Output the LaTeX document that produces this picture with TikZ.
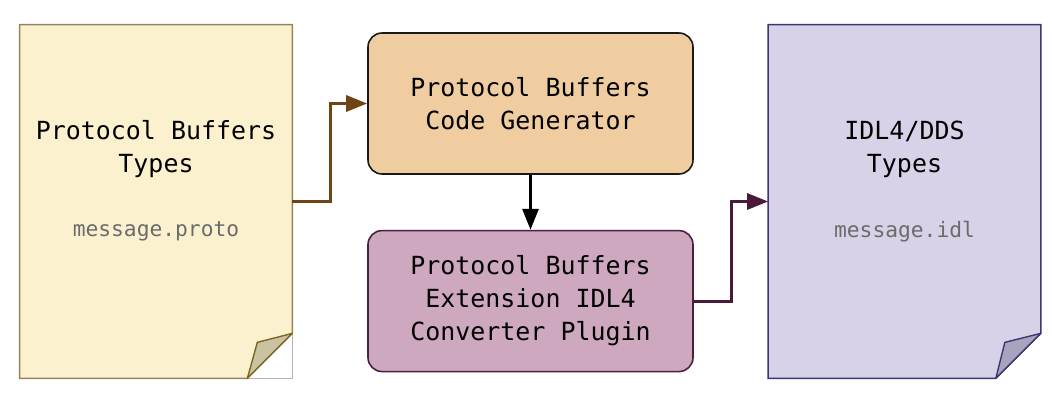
\documentclass[tikz,border=0pt]{standalone}
\usepackage{fontspec}
\setmonofont{DejaVu Sans Mono}
\usepackage{tikz}
\usetikzlibrary{arrows.meta, positioning, calc, backgrounds}

\definecolor{srcfill}{HTML}{FCF1CF}
\definecolor{srcdraw}{HTML}{948458}
\definecolor{srcflap}{HTML}{C9C2A3}
\definecolor{srcflapdraw}{HTML}{7F6520}
\definecolor{genfill}{HTML}{EFCDA1}
\definecolor{convfill}{HTML}{CDA8BE}
\definecolor{convdraw}{HTML}{4B1F3F}
\definecolor{dstfill}{HTML}{D8D2E8}
\definecolor{dstdraw}{HTML}{3E3672}
\definecolor{dstflap}{HTML}{A9A4BE}
\definecolor{srcarrow}{HTML}{704414}
\definecolor{dstarrow}{HTML}{4B1A3A}

\begin{document}
\begin{tikzpicture}[
    doc/.style={rectangle, minimum width=5.44cm, minimum height=7.06cm, inner sep=0pt},
    box/.style={rectangle, rounded corners=8pt, line width=0.9pt, minimum width=6.5cm, minimum height=2.82cm, align=center, font=\ttfamily\fontsize{14.2}{18.8}\selectfont},
    title/.style={align=center, font=\ttfamily\fontsize{14.2}{18.8}\selectfont},
    file/.style={font=\ttfamily\fontsize{12.1}{14}\selectfont, text=black!58},
    arrow/.style={-{Triangle[length=0.42cm, width=0.32cm]}, line width=1.7pt}
]
\useasboundingbox (0,0) rectangle (21.04,7.88);

% ==========================================
% DOCUMENTOS
% ==========================================
\node[doc] (src) at (3.12,3.85) {};
\node[title] (srct) at ([yshift=1.04cm]src.center) {Protocol Buffers\\Types};
\node[file] (srcf) at ([yshift=-0.6cm]src.center) {message.proto};

\node[doc] (dst) at (18.09,3.85) {};
\node[title] (dstt) at ([yshift=1.04cm]dst.center) {IDL4/DDS\\Types};
\node[file] (dstf) at ([yshift=-0.6cm]dst.center) {message.idl};

\begin{scope}[on background layer]
    \fill[white] (0,0) rectangle (21.04,7.88);
    \draw[black!30, line width=0.6pt] ([yshift=0.9cm]src.south east) -- (src.south east) -- ([xshift=-0.9cm]src.south east);
    \draw[srcdraw, fill=srcfill, line width=0.8pt] (src.south west) -- (src.north west) -- (src.north east)
        -- ([yshift=0.9cm]src.south east) -- ([xshift=-0.9cm]src.south east) -- cycle;
    \draw[srcflapdraw, fill=srcflap, line width=0.8pt, line join=round] ([yshift=0.9cm]src.south east)
        -- ($(src.south east)+(-0.7,0.72)$) -- ([xshift=-0.9cm]src.south east) -- cycle;
    \draw[dstdraw, fill=dstfill, line width=0.8pt] (dst.south west) -- (dst.north west) -- (dst.north east)
        -- ([yshift=0.9cm]dst.south east) -- ([xshift=-0.9cm]dst.south east) -- cycle;
    \draw[dstdraw, fill=dstflap, line width=0.8pt, line join=round] ([yshift=0.9cm]dst.south east)
        -- ($(dst.south east)+(-0.72,0.72)$) -- ([xshift=-0.9cm]dst.south east) -- cycle;
\end{scope}

% ==========================================
% PLUGINS
% ==========================================
\node[box, draw=black!90, fill=genfill] (gen) at (10.61,5.81) {Protocol Buffers\\Code Generator};
\node[box, draw=convdraw, fill=convfill, below=1.1cm of gen] (conv) {Protocol Buffers\\Extension IDL4\\Converter Plugin};

% Conectores
\draw[arrow, srcarrow] (src.east) -- ++(0.76,0) |- (gen.west);
\draw[arrow, black] (gen.south) -- (conv.north);
\draw[arrow, dstarrow] (conv.east) -- ++(0.76,0) |- (dst.west);

\end{tikzpicture}
\end{document}
